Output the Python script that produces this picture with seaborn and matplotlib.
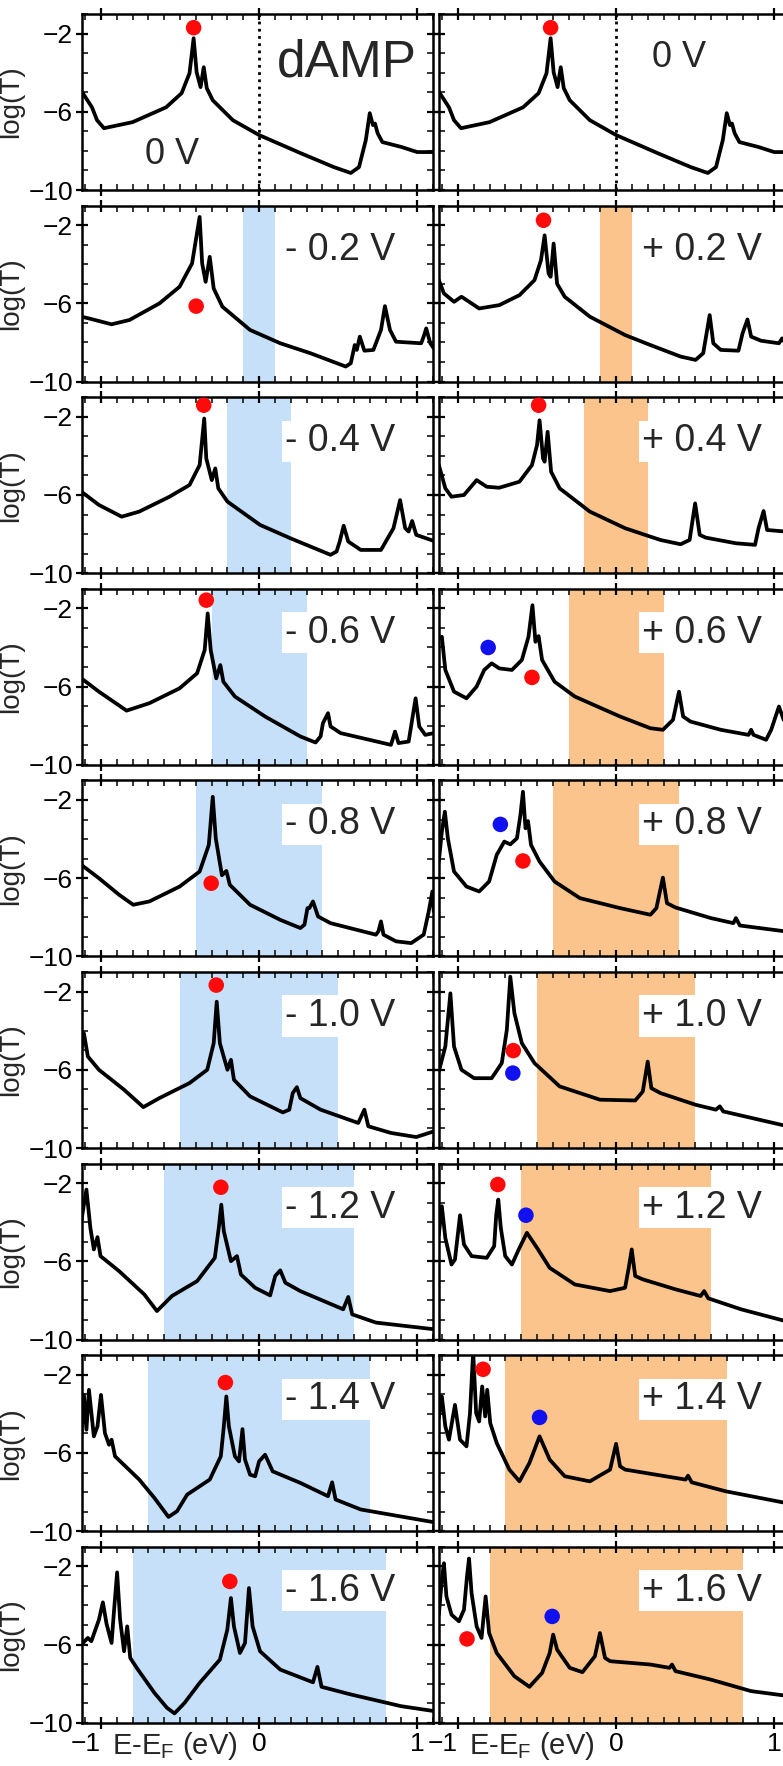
import matplotlib.pyplot as plt
from matplotlib.ticker import MultipleLocator
import seaborn as sns

sns.set_style('ticks')
plt.rcParams['font.family'] = ['Liberation Sans', 'DejaVu Sans']
plt.rcParams['mathtext.fontset'] = 'custom'
plt.rcParams['mathtext.rm'] = 'Liberation Sans'

# ---- data: energy (eV) and log(T) ----
# zero bias (same curve in both top panels)
E_0V = [-1.127, -1.057, -1.025, -0.981, -0.80, -0.588, -0.49, -0.44, -0.414, -0.395, -0.37, -0.35, -0.331,
        -0.293, -0.166, 0.0, 0.261, 0.473, 0.58, 0.632, 0.675, 0.70, 0.72, 0.733, 0.75, 0.78, 0.90, 1.0, 1.11]
T_0V = [-4.9, -5.77, -6.43, -6.84, -6.53, -5.77, -5.05, -4.03, -2.24, -3.98, -4.74, -3.72, -4.79,
        -5.41, -6.43, -7.19, -8.11, -8.83, -9.13, -8.83, -7.45, -6.07, -6.68, -6.6, -7.1, -7.55, -7.8, -8.06, -8.06]

# negative bias
E_n02 = [-1.124, -1.076, -0.933, -0.82, -0.63, -0.503, -0.424, -0.376, -0.36, -0.338, -0.312, -0.287, -0.232,
         -0.057, 0.134, 0.325, 0.548, 0.58, 0.605, 0.618, 0.637, 0.666, 0.723, 0.771, 0.796, 0.828, 0.866,
         1.025, 1.041, 1.057, 1.083, 1.105]
T_n02 = [-6.68, -6.77, -7.07, -6.85, -6.0, -5.15, -3.96, -1.58, -3.96, -4.9, -3.62, -5.24, -6.17,
         -7.36, -8.04, -8.55, -9.23, -9.06, -8.13, -8.38, -7.70, -8.42, -8.38, -7.36, -6.14, -7.36, -7.96,
         -8.04, -7.70, -7.28, -8.04, -8.3]

E_n04 = [-1.124, -1.013, -0.869, -0.758, -0.567, -0.44, -0.376, -0.347, -0.334, -0.299, -0.277, -0.258, -0.2,
         0.006, 0.197, 0.452, 0.49, 0.51, 0.535, 0.564, 0.643, 0.771, 0.85, 0.892, 0.924, 0.946, 0.968, 0.994, 1.105]
T_n04 = [-5.83, -6.51, -7.11, -6.85, -6.09, -5.49, -4.47, -2.09, -4.13, -5.24, -4.64, -5.66, -6.34,
         -7.53, -8.21, -9.06, -8.89, -8.38, -7.57, -8.38, -8.81, -8.81, -7.70, -6.26, -7.70, -7.87, -7.33, -8.04, -8.35]

E_n06 = [-1.124, -1.013, -0.838, -0.694, -0.503, -0.392, -0.344, -0.325, -0.306, -0.271, -0.245, -0.226, -0.153,
         0.038, 0.261, 0.357, 0.389, 0.404, 0.436, 0.452, 0.516, 0.834, 0.86, 0.882, 0.946, 0.968, 0.99, 1.013,
         1.051, 1.105]
T_n06 = [-5.58, -6.26, -7.23, -6.85, -6.09, -5.32, -4.13, -2.26, -4.13, -5.58, -4.9, -5.75, -6.51,
         -7.53, -8.55, -8.86, -8.55, -7.87, -7.36, -8.04, -8.38, -8.98, -8.30, -8.89, -8.81, -7.70, -6.6, -8.04,
         -8.47, -8.38]

E_n08 = [-1.124, -1.013, -0.885, -0.796, -0.694, -0.503, -0.376, -0.318, -0.293, -0.274, -0.235, -0.207, -0.185,
         -0.057, 0.134, 0.261, 0.287, 0.306, 0.318, 0.341, 0.373, 0.452, 0.739, 0.755, 0.771, 0.787, 0.866, 0.962,
         1.041, 1.073, 1.096, 1.105]
T_n08 = [-5.32, -6.0, -6.85, -7.36, -7.19, -6.43, -5.66, -4.30, -1.84, -3.96, -5.85, -5.63, -6.34,
         -7.36, -8.13, -8.55, -8.38, -7.53, -7.53, -7.19, -7.96, -8.3, -8.89, -8.72, -8.21, -8.89, -9.23, -9.32,
         -8.89, -7.70, -6.68, -7.70]

E_n10 = [-1.124, -1.108, -1.083, -1.013, -0.854, -0.732, -0.631, -0.44, -0.328, -0.287, -0.268, -0.248, -0.2,
         -0.178, -0.159, -0.057, 0.15, 0.191, 0.213, 0.239, 0.261, 0.389, 0.627, 0.666, 0.691, 0.834, 0.994, 1.105]
T_n10 = [-4.98, -4.13, -5.32, -6.0, -7.02, -7.91, -7.45, -6.68, -6.0, -4.64, -2.52, -4.64, -6.0,
         -5.49, -6.51, -7.36, -8.18, -8.04, -7.19, -6.89, -7.45, -8.04, -8.72, -8.04, -8.89, -9.23, -9.44, -9.15]

E_n12 = [-1.124, -1.108, -1.092, -1.067, -1.045, -1.022, -1.003, -0.885, -0.726, -0.646, -0.551, -0.392, -0.28,
         -0.255, -0.239, -0.223, -0.178, -0.14, -0.115, -0.025, 0.07, 0.102, 0.134, 0.166, 0.261, 0.532, 0.564,
         0.589, 0.739, 1.105]
T_n12 = [-3.95, -3.1, -2.33, -4.29, -5.39, -4.76, -5.73, -6.50, -7.69, -8.54, -7.77, -7.01, -5.82,
         -4.29, -3.1, -4.46, -5.99, -5.73, -6.67, -7.35, -7.74, -6.75, -6.46, -7.09, -7.52, -8.45, -7.82,
         -8.71, -9.13, -9.47]

E_n14 = [-1.124, -1.108, -1.092, -1.076, -1.045, -1.022, -1.0, -0.975, -0.949, -0.933, -0.911, -0.758, -0.662,
         -0.573, -0.519, -0.455, -0.312, -0.242, -0.223, -0.207, -0.191, -0.153, -0.127, -0.105, -0.089, -0.057,
         -0.025, 0.0, 0.038, 0.086, 0.261, 0.436, 0.462, 0.484, 0.643, 1.105]
T_n14 = [-5.15, -3.03, -4.81, -2.77, -5.15, -4.64, -3.03, -4.98, -5.58, -5.32, -6.17, -7.36, -8.30,
         -9.27, -8.98, -8.13, -7.36, -6.17, -4.64, -3.11, -4.64, -6.17, -6.43, -4.78, -6.34, -7.11,
         -7.19, -6.43, -6.09, -6.94, -7.53, -8.21, -7.50, -8.38, -8.89, -9.54]

E_n16 = [-1.124, -1.083, -1.061, -1.013, -0.988, -0.965, -0.933, -0.917, -0.898, -0.879, -0.854, -0.834, -0.815,
         -0.774, -0.662, -0.583, -0.535, -0.471, -0.376, -0.248, -0.201, -0.178, -0.159, -0.121, -0.089, -0.064,
         -0.041, 0.006, 0.134, 0.341, 0.369, 0.395, 0.58, 0.898, 1.105]
T_n16 = [-6.0, -5.66, -5.83, -4.73, -3.84, -4.93, -5.92, -4.22, -2.31, -4.73, -6.34, -5.07, -6.68,
         -7.19, -8.47, -9.23, -9.52, -8.98, -7.96, -6.77, -5.24, -3.62, -5.07, -6.43, -5.92, -3.11,
         -5.07, -6.34, -7.28, -7.93, -7.14, -8.16, -8.55, -9.15, -9.40]

# positive bias
E_p02 = [-1.121, -1.089, -1.025, -0.978, -0.946, -0.866, -0.739, -0.611, -0.516, -0.475, -0.452, -0.427, -0.414,
         -0.395, -0.373, -0.325, -0.166, 0.057, 0.217, 0.408, 0.503, 0.551, 0.592, 0.615, 0.662, 0.774, 0.80,
         0.831, 0.854, 0.917, 1.03, 1.05, 1.07, 1.11]
T_p02 = [-4.81, -5.49, -5.92, -5.66, -5.83, -6.26, -6.09, -5.58, -4.81, -3.79, -2.52, -4.47, -4.64,
         -2.94, -5.0, -5.66, -6.68, -7.62, -8.13, -8.72, -8.89, -8.55, -6.6, -8.04, -8.38, -8.42, -7.53,
         -6.82, -7.70, -7.91, -8.04, -7.79, -8.04, -8.1]

E_p04 = [-1.121, -1.08, -1.041, -0.962, -0.882, -0.818, -0.739, -0.611, -0.532, -0.50, -0.484, -0.462, -0.452,
         -0.433, -0.411, -0.357, -0.166, 0.057, 0.28, 0.408, 0.465, 0.50, 0.529, 0.567, 0.758, 0.879, 0.901,
         0.933, 0.955, 1.07]
T_p04 = [-4.47, -5.66, -6.09, -6.0, -5.24, -5.58, -5.63, -5.32, -4.47, -3.45, -2.18, -4.13, -4.3,
         -2.77, -4.81, -5.66, -6.85, -7.70, -8.3, -8.52, -8.3, -6.43, -8.04, -8.18, -8.47, -8.55, -7.70,
         -6.82, -7.79, -7.87]

E_p06 = [-1.121, -1.102, -1.08, -1.025, -0.946, -0.882, -0.834, -0.787, -0.739, -0.659, -0.596, -0.554, -0.529,
         -0.51, -0.50, -0.49, -0.468, -0.389, -0.261, 0.025, 0.217, 0.296, 0.36, 0.398, 0.424, 0.471, 0.662,
         0.838, 0.854, 0.869, 0.949, 0.981, 1.03, 1.06, 1.11]
T_p06 = [-3.54, -3.45, -5.15, -6.26, -6.6, -6.0, -5.15, -4.81, -5.07, -5.15, -4.64, -3.45, -1.84,
         -3.71, -3.54, -3.42, -4.64, -5.75, -6.51, -7.53, -8.13, -8.21, -7.70, -6.26, -7.53, -7.79, -8.21,
         -8.47, -8.21, -8.47, -8.72, -8.21, -7.02, -7.70, -8.0]

E_p08 = [-1.121, -1.102, -1.083, -1.064, -1.025, -0.946, -0.866, -0.803, -0.755, -0.707, -0.669, -0.627, -0.605,
         -0.589, -0.573, -0.557, -0.538, -0.484, -0.389, -0.229, 0.025, 0.217, 0.255, 0.296, 0.322, 0.376, 0.599,
         0.742, 0.758, 0.783, 1.07]
T_p08 = [-5.15, -3.62, -2.60, -3.96, -5.66, -6.43, -6.68, -6.17, -4.81, -4.13, -4.27, -3.96, -2.77,
         -1.58, -3.45, -3.08, -4.30, -5.15, -6.17, -7.02, -7.53, -7.87, -7.53, -5.97, -7.28, -7.50, -8.04,
         -8.30, -8.04, -8.42, -8.72]

E_p10 = [-1.121, -1.08, -1.048, -1.025, -0.978, -0.898, -0.787, -0.723, -0.691, -0.669, -0.643, -0.596, -0.516,
         -0.357, -0.102, 0.121, 0.169, 0.20, 0.223, 0.28, 0.503, 0.631, 0.656, 0.678, 1.07]
T_p10 = [-6.09, -4.81, -2.09, -4.81, -6.0, -6.43, -6.43, -5.66, -3.96, -1.24, -3.11, -4.64, -5.66,
         -6.85, -7.53, -7.57, -7.11, -5.58, -6.94, -7.19, -7.79, -8.04, -7.87, -8.13, -8.86]

E_p12 = [-1.121, -1.102, -1.08, -1.041, -1.019, -0.987, -0.962, -0.914, -0.818, -0.771, -0.758, -0.745, -0.729,
         -0.701, -0.659, -0.611, -0.564, -0.50, -0.42, -0.261, -0.038, 0.057, 0.08, 0.099, 0.121, 0.169, 0.376,
         0.535, 0.557, 0.583, 0.79, 1.07]
T_p12 = [-4.63, -3.18, -4.80, -6.16, -5.90, -3.64, -5.14, -5.73, -5.82, -5.22, -3.61, -2.84, -4.29,
         -5.73, -6.16, -5.31, -4.54, -5.31, -6.33, -7.18, -7.52, -7.35, -6.33, -5.39, -6.75, -6.92, -7.43,
         -7.77, -7.52, -7.89, -8.45, -9.05]

E_p14 = [-1.121, -1.102, -1.08, -1.057, -1.019, -0.987, -0.946, -0.924, -0.904, -0.885, -0.866, -0.847, -0.828,
         -0.815, -0.796, -0.755, -0.675, -0.611, -0.548, -0.484, -0.42, -0.325, -0.166, -0.038, 0.0, 0.025, 0.057,
         0.312, 0.44, 0.455, 0.478, 0.694, 1.07]
T_p14 = [-4.22, -3.11, -4.64, -5.32, -3.54, -5.32, -5.66, -3.96, -0.8, -3.96, -4.39, -2.6, -4.13,
         -2.77, -4.47, -5.49, -6.85, -7.45, -6.51, -5.15, -6.34, -7.19, -7.45, -6.85, -5.53, -6.68, -6.85,
         -7.19, -7.36, -7.16, -7.50, -7.96, -8.55]

E_p16 = [-1.121, -1.102, -1.089, -1.073, -1.041, -0.994, -0.962, -0.943, -0.93, -0.914, -0.882, -0.851, -0.825,
         -0.803, -0.755, -0.643, -0.548, -0.468, -0.42, -0.398, -0.373, -0.293, -0.213, -0.134, -0.102, -0.07,
         -0.038, 0.217, 0.338, 0.354, 0.376, 0.599, 0.854, 1.07]
T_p16 = [-4.47, -2.69, -1.84, -3.54, -4.47, -4.81, -4.22, -2.52, -1.6, -3.37, -5.07, -5.66, -3.54,
         -5.41, -6.43, -7.62, -8.16, -7.45, -6.43, -5.49, -6.26, -7.19, -7.41, -6.6, -5.41, -6.68,
         -6.85, -7.02, -7.19, -7.02, -7.36, -7.79, -8.38, -8.61]

biases = [0.0, 0.2, 0.4, 0.6, 0.8, 1.0, 1.2, 1.4, 1.6]
left_labels = ['0 V', '- 0.2 V', '- 0.4 V', '- 0.6 V', '- 0.8 V', '- 1.0 V', '- 1.2 V', '- 1.4 V', '- 1.6 V']
right_labels = ['0 V', '+ 0.2 V', '+ 0.4 V', '+ 0.6 V', '+ 0.8 V', '+ 1.0 V', '+ 1.2 V', '+ 1.4 V', '+ 1.6 V']

# marked states (red), and the second state at positive bias (blue)
red_left_x = [-0.414, -0.398, -0.35, -0.334, -0.303, -0.271, -0.242, -0.213, -0.185]
red_left_y = [-1.70, -6.14, -1.41, -1.58, -6.26, -1.67, -2.21, -2.40, -2.77]
red_right_x = [-0.414, -0.459, -0.49, -0.532, -0.589, -0.65, -0.748, -0.841, -0.943]
red_right_y = [-1.70, -1.75, -1.41, -5.53, -5.12, -5.02, -2.07, -1.72, -5.71]
blue_rows = [3, 4, 5, 6, 7, 8]
blue_x = [-0.809, -0.732, -0.653, -0.57, -0.484, -0.404]
blue_y = [-4.0, -3.25, -6.17, -3.64, -4.18, -4.56]

left_curves = [(E_0V, T_0V), (E_n02, T_n02), (E_n04, T_n04), (E_n06, T_n06), (E_n08, T_n08),
               (E_n10, T_n10), (E_n12, T_n12), (E_n14, T_n14), (E_n16, T_n16)]
right_curves = [(E_0V, T_0V), (E_p02, T_p02), (E_p04, T_p04), (E_p06, T_p06), (E_p08, T_p08),
                (E_p10, T_p10), (E_p12, T_p12), (E_p14, T_p14), (E_p16, T_p16)]

# ---- layout in pixels ----
W, H = 783, 1766
fig = plt.figure(figsize=(W / 100, H / 100), dpi=100)
col_x = [82, 439]
pw, ph = 351, 176
blue_shade = '#c6e0fa'
orange_shade = '#fbc48c'

for col in range(2):
    curves = left_curves if col == 0 else right_curves
    labels = left_labels if col == 0 else right_labels
    for r in range(9):
        top = 14 + 191.6 * r
        ax = fig.add_axes([col_x[col] / W, 1 - (top + ph) / H, pw / W, ph / H])
        E, T = curves[r]
        b = biases[r]
        if b > 0:
            ax.axvspan(-b / 2, b / 2, color=blue_shade if col == 0 else orange_shade, lw=0, zorder=0)
        else:
            ax.axvline(0, color='black', ls=(0, (1, 1.6)), lw=2, zorder=1)
        sns.lineplot(x=E, y=T, ax=ax, color='black', linewidth=2.7, sort=False, estimator=None, zorder=3)

        if col == 0:
            sns.scatterplot(x=[red_left_x[r]], y=[red_left_y[r]], ax=ax, color='#ff0a0a', s=125,
                            edgecolor='none', zorder=5, clip_on=False)
        else:
            sns.scatterplot(x=[red_right_x[r]], y=[red_right_y[r]], ax=ax, color='#ff0a0a', s=125,
                            edgecolor='none', zorder=5, clip_on=False)
            if r in blue_rows:
                i = blue_rows.index(r)
                sns.scatterplot(x=[blue_x[i]], y=[blue_y[i]], ax=ax, color='#1010f0', s=125,
                                edgecolor='none', zorder=5, clip_on=False)

        # labels
        if r == 0 and col == 0:
            ax.text(0.18, 0.2, labels[r], transform=ax.transAxes, fontsize=26, va='center', ha='left')
            ax.text(0.555, 0.72, 'dAMP', transform=ax.transAxes, fontsize=37, va='center', ha='left')
        elif r == 0:
            ax.text(0.607, 0.755, labels[r], transform=ax.transAxes, fontsize=26, va='center', ha='left')
        else:
            ax.text(0.577, 0.75, labels[r], transform=ax.transAxes, fontsize=27, va='center', ha='left',
                    zorder=6, bbox=dict(facecolor='white', edgecolor='none', pad=2))

        ax.set_xlim(-1.12, 1.10)
        ax.set_ylim(-10, -1)
        ax.set_xticks([-1, 0, 1])
        ax.set_yticks([-2, -6, -10])
        ax.xaxis.set_minor_locator(MultipleLocator(0.1))
        ax.yaxis.set_minor_locator(MultipleLocator(1))
        ax.tick_params(which='major', direction='inout', length=9, width=1.6, top=True, right=True,
                       labelsize=19, pad=2, color='black', labelcolor='black')
        ax.tick_params(which='minor', direction='in', length=4.5, width=1.3, top=True, right=True)
        for s in ax.spines.values():
            s.set_linewidth(1.8)
            s.set_color('black')
        ax.set_xlabel('')
        ax.set_ylabel('')
        if col == 0:
            ax.set_ylabel('log(T)', fontsize=20)
            ax.yaxis.set_label_coords(-0.165, 0.5)
        else:
            ax.tick_params(labelleft=False)
        if r < 8:
            ax.tick_params(labelbottom=False)
        else:
            ax.text(0.265, -0.13, r'E-E$_\mathregular{F}$ (eV)', transform=ax.transAxes, fontsize=21,
                    va='center', ha='center')
            ax.get_xticklabels()[0].set_ha('right')

fig.savefig('out.png', dpi=100)
